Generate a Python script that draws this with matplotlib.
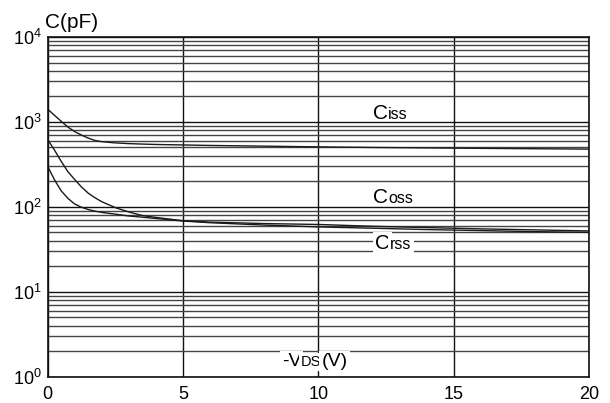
import numpy as np
import matplotlib.pyplot as plt
from matplotlib.ticker import LogLocator, NullFormatter

plt.rcParams['font.family'] = ['Liberation Sans', 'DejaVu Sans']

# valores
vds = [0, 0.25, 0.5, 0.75, 1, 1.25, 1.5, 1.75, 2, 2.5, 3, 3.5, 4, 5,
       6, 8, 10, 12, 14, 16, 18, 20]
ciss = [1419, 1200, 1020, 870, 770, 700, 645, 605, 585, 566, 555, 548, 542, 535,
        528, 518, 508, 500, 494, 488, 483, 478]
coss = [624, 470, 345, 260, 210, 172, 145, 128, 115, 98, 87, 79, 75, 68.6,
        66, 63.5, 62, 59, 57, 55, 53.5, 52]
crss = [302, 210, 155, 126, 108, 99, 93, 89, 86, 82, 78, 75.5, 73, 68,
        65, 61, 58, 56, 54, 52.5, 51, 50]

y_ticks = [1, 10, 100, 1000, 10000]
y_labels = ['$\\mathregular{10^{0}}$', '$\\mathregular{10^{1}}$', '$\\mathregular{10^{2}}$',
            '$\\mathregular{10^{3}}$', '$\\mathregular{10^{4}}$']
x_ticks = [0, 5, 10, 15, 20]

fig = plt.figure(figsize=(6.1, 4.03), dpi=100)
ax = fig.add_axes([0.0779, 0.0653, 0.8877, 0.843])

for serie in (ciss, coss, crss):
    ax.plot(vds, serie, color='#1a1a1a', lw=1.0)

ax.set_yscale('log')
ax.set_xlim(0, 20)
ax.set_ylim(1, 10000)
ax.set_yticks(y_ticks)
ax.set_yticklabels(y_labels)
ax.yaxis.set_minor_locator(LogLocator(base=10, subs=np.arange(2, 10)))
ax.yaxis.set_minor_formatter(NullFormatter())
ax.set_xticks(x_ticks)
ax.tick_params(axis='both', which='both', length=0, labelsize=13)
ax.tick_params(axis='x', pad=7)
ax.tick_params(axis='y', pad=4)

ax.grid(True, which='major', axis='both', color='#111111', lw=1.0)
ax.grid(True, which='minor', axis='y', color='#444444', lw=1.0)
for s in ax.spines.values():
    s.set_color('#111111')
    s.set_linewidth(1.2)

blanco = dict(facecolor='white', edgecolor='none', pad=1.5)

# etiquetas de las curvas
def etiqueta(x, y, sub, bg=False):
    ax.text(x, y, 'C', fontsize=15, ha='left', va='baseline',
            bbox=blanco if bg else None, zorder=5)
    ax.annotate(sub, xy=(x, y), xytext=(10.8, 0), textcoords='offset points',
                fontsize=11.5, ha='left', va='baseline',
                bbox=blanco if bg else None, zorder=5)

etiqueta(12.02, 1082, 'iss')
etiqueta(12.02, 111, 'oss')
etiqueta(12.1, 31.8, 'rss', bg=True)

ax.text(8.65, 1.33, '-V', fontsize=14, ha='left', va='baseline', bbox=blanco, zorder=5)
ax.annotate('DS', xy=(8.65, 1.33), xytext=(14, 0), textcoords='offset points',
            fontsize=10.5, ha='left', va='baseline', bbox=blanco, zorder=5)
ax.annotate('(V)', xy=(8.65, 1.33), xytext=(28.6, 0), textcoords='offset points',
            fontsize=14, ha='left', va='baseline', bbox=blanco, zorder=5)

fig.text(0.0738, 0.9305, 'C(pF)', fontsize=15, ha='left', va='baseline')

fig.savefig('out.png', dpi=100)
